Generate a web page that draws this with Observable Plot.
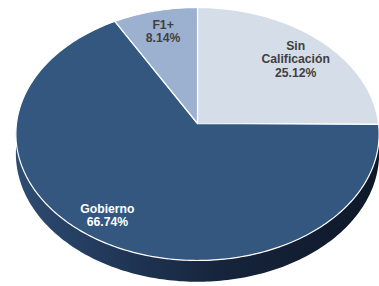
<!DOCTYPE html>
<html><head><meta charset="utf-8">
<script src="https://cdn.jsdelivr.net/npm/d3@7"></script>
<script src="https://cdn.jsdelivr.net/npm/@observablehq/plot@0.6"></script>
<style>body{margin:0;background:#fff;} svg{display:block;}</style>
</head><body><div id="chart"></div>
<script>
// ---- data ----
const categories = ["Sin Calificación", "Gobierno", "F1+"];
const values = [25.12, 66.74, 8.14];
const labelNames = ["Sin\nCalificación", "Gobierno", "F1+"];
const pctLabels = ["25.12%", "66.74%", "8.14%"];

// ---- layout ----
const W = 379, H = 286;
const R = 181, CX = 197, CY = 123;
const tilt = 0.694, persp = 0.083, depth = 19.5 / R, labelR = 0.8;

function proj(theta, r = 1) {
  const t = theta * Math.PI / 180;
  const u = r * Math.sin(t), v = -r * Math.cos(t);
  const k = 1 / (1 - persp * v);
  return [u * k, tilt * v * k, k];
}

const total = d3.sum(values);
let acc = 0;
const slices = categories.map((c, i) => {
  const a0 = acc / total * 360; acc += values[i]; const a1 = acc / total * 360;
  return {cat: c, a0, a1, text: labelNames[i] + "\n" + pctLabels[i]};
});

const topPts = [];
slices.forEach(s => {
  topPts.push({cat: s.cat, x: 0, y: 0});
  const n = Math.max(2, Math.ceil(s.a1 - s.a0));
  for (let j = 0; j <= n; j++) {
    const [x, y] = proj(s.a0 + (s.a1 - s.a0) * j / n);
    topPts.push({cat: s.cat, x, y});
  }
  topPts.push({cat: s.cat, x: 0, y: 0});
});

const sidePts = [];
slices.forEach(s => {
  const b0 = Math.max(s.a0, 90), b1 = Math.min(s.a1, 270);
  if (b1 - b0 < 1) return;
  const n = Math.ceil(b1 - b0);
  const upper = [], lower = [];
  for (let j = 0; j <= n; j++) {
    const [x, y, k] = proj(b0 + (b1 - b0) * j / n);
    upper.push({cat: s.cat, x, y});
    lower.push({cat: s.cat, x, y: y + depth * k});
  }
  sidePts.push(...upper, ...lower.reverse());
});

const labelPts = slices.map(s => {
  const [x, y] = proj((s.a0 + s.a1) / 2, labelR);
  return {cat: s.cat, x, y, text: s.text};
});

const font = {fontSize: 12.2, fontWeight: "bold", fontFamily: "Liberation Sans, Arial, sans-serif", lineHeight: 1.1};
const chart = Plot.plot({
  width: W, height: H,
  margin: 0, marginTop: 0, marginRight: 0, marginBottom: 0, marginLeft: 0,
  x: {domain: [-CX / R, (W - CX) / R], range: [0, W], axis: null},
  y: {domain: [-CY / R, (H - CY) / R], range: [0, H], axis: null},
  color: {domain: categories, range: ["#d5dde9", "#34577f", "#9cb0d0"]},
  marks: [
    Plot.line(sidePts, {x: "x", y: "y", z: "cat", fill: "url(#sideGrad)", stroke: "none"}),
    Plot.line(topPts, {x: "x", y: "y", z: "cat", fill: "cat", stroke: "white", strokeWidth: 1.2}),
    Plot.text(labelPts.filter(d => d.cat === "F1+"), {x: "x", y: "y", text: "text", fill: "#404040", dy: -1, ...font}),
    Plot.text(labelPts.filter(d => d.cat === "Sin Calificación"), {x: "x", y: "y", text: "text", fill: "#404040", dy: 3, ...font}),
    Plot.text(labelPts.filter(d => d.cat === "Gobierno"), {x: "x", y: "y", text: "text", fill: "white", dx: -12, ...font})
  ]
});

const defs = d3.select(chart).insert("defs", ":first-child");
const grad = defs.append("linearGradient").attr("id", "sideGrad").attr("x1", 0).attr("x2", 1).attr("y1", 0).attr("y2", 0);
[[0, "#2f4c72"], [0.22, "#233b5d"], [0.55, "#16253c"], [1, "#0e1828"]].forEach(([o, c]) =>
  grad.append("stop").attr("offset", o).attr("stop-color", c));

document.getElementById("chart").appendChild(chart);
</script>
</body></html>
